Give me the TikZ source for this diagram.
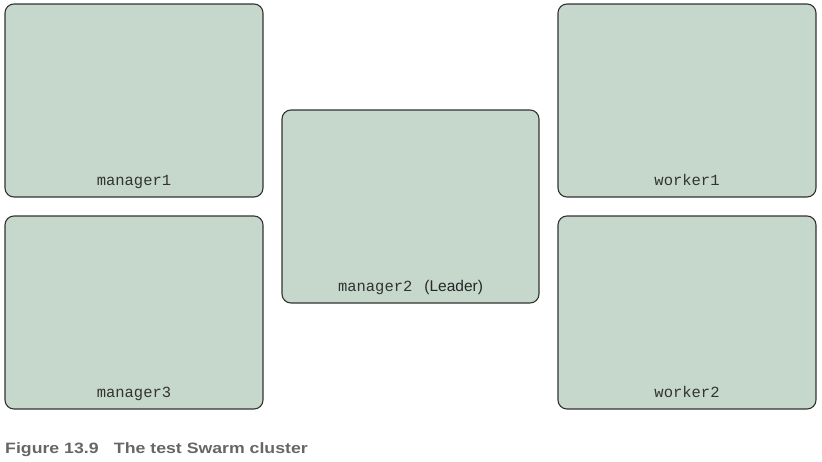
\documentclass[tikz,border=0pt]{standalone}
\usepackage{fontspec}
\setmainfont{Liberation Sans}
\setmonofont{Liberation Mono}
\definecolor{boxfill}{HTML}{C5D8CB}
\definecolor{boxline}{HTML}{333333}
\definecolor{captgray}{HTML}{666666}
\begin{document}
\begin{tikzpicture}[x=1pt,y=-1pt,
  hostbox/.style={draw=boxline, fill=boxfill, line width=1.1pt, rounded corners=9pt},
  hostlabel/.style={anchor=base, inner sep=0pt, text=boxline, font=\fontsize{15.5}{18}\selectfont\ttfamily}]
\useasboundingbox (0,0) rectangle (822,461);
\draw[hostbox] (5,4) rectangle (263,197);
\draw[hostbox] (5,216) rectangle (263,409);
\draw[hostbox] (282,110) rectangle (539,303);
\draw[hostbox] (558,4) rectangle (816,197);
\draw[hostbox] (558,216) rectangle (816,409);
\node[hostlabel] (l1) at (134,185) {manager1};
\node[hostlabel] (l3) at (134,397) {manager3};
\node[hostlabel] (l2) at (410.5,291) {manager2\hspace{12pt}{\fontsize{15.5}{18}\rmfamily\color{black!85}(Leader)}};
\node[hostlabel] (w1) at (687,185) {worker1};
\node[hostlabel] (w2) at (687,397) {worker2};
\node[anchor=base west, inner sep=0pt, text=captgray, font=\fontsize{15}{17}\selectfont\bfseries] (cap) at (5,453) {\scalebox{1.18}[1]{Figure 13.9\hspace{13pt}The test Swarm cluster}};
\end{tikzpicture}
\end{document}
